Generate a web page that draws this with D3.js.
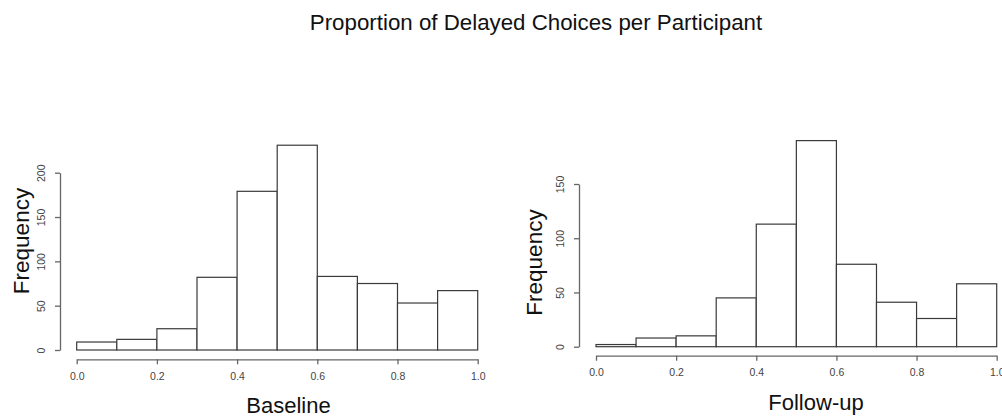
<!DOCTYPE html>
<html>
<head>
<meta charset="utf-8">
<script src="https://cdn.jsdelivr.net/npm/d3@7"></script>
<style>
  html, body { margin: 0; padding: 0; background: #fff; }
  svg { display: block; font-family: "Liberation Sans", Arial, sans-serif; }
</style>
</head>
<body>
<svg id="chart" width="1002" height="417"></svg>
<script>
// Histogram bins (proportion of delayed choices) and counts per bin
const binEdges = [0.0, 0.1, 0.2, 0.3, 0.4, 0.5, 0.6, 0.7, 0.8, 0.9, 1.0];
const baselineCounts = [9, 12, 24, 82, 179, 231, 83, 75, 53, 67];
const followupCounts = [2, 8, 10, 45, 113, 190, 76, 41, 26, 58];
const xTickValues = [0.0, 0.2, 0.4, 0.6, 0.8, 1.0];
const baselineYTicks = [0, 50, 100, 150, 200];
const followupYTicks = [0, 50, 100, 150];

const titleText = "Proportion of Delayed Choices per Participant";
const yLabel = "Frequency";

const svg = d3.select("#chart");

svg.append("text")
  .attr("x", 536).attr("y", 30)
  .attr("text-anchor", "middle")
  .attr("font-size", 22.3)
  .attr("fill", "#111")
  .text(titleText);

function drawPanel(cfg) {
  const g = svg.append("g");
  const x = d3.scaleLinear().domain([0, 1]).range([cfg.x0, cfg.x1]);
  const yMax = cfg.yTicks[cfg.yTicks.length - 1];
  const y = d3.scaleLinear().domain([0, yMax]).range([cfg.yBase, cfg.yTop]);

  const bins = cfg.counts.map((c, i) => ({ lo: binEdges[i], hi: binEdges[i + 1], n: c }));

  g.selectAll("rect.bar").data(bins).enter().append("rect")
    .attr("class", "bar")
    .attr("x", d => x(d.lo))
    .attr("y", d => y(d.n))
    .attr("width", d => x(d.hi) - x(d.lo))
    .attr("height", d => y(0) - y(d.n))
    .attr("fill", "#fff")
    .attr("stroke", "#3a3a3a")
    .attr("stroke-width", 1.2);

  // x axis, offset below the bars
  const xAxis = d3.axisBottom(x)
    .tickValues(xTickValues)
    .tickFormat(d3.format(".1f"))
    .tickSizeInner(5).tickSizeOuter(0).tickPadding(8);
  const gx = g.append("g")
    .attr("transform", `translate(0,${cfg.xAxisY})`)
    .call(xAxis);
  gx.select(".domain").attr("stroke", "#666").attr("stroke-width", 1.3);
  gx.selectAll(".tick line").attr("stroke", "#666").attr("stroke-width", 1.3);
  gx.selectAll(".tick text")
    .attr("font-size", 10.5)
    .attr("font-family", "Liberation Sans, Arial, sans-serif")
    .attr("fill", "#444");

  // y axis with rotated tick labels
  const yAxis = d3.axisLeft(y)
    .tickValues(cfg.yTicks)
    .tickSizeInner(5).tickSizeOuter(0);
  const gy = g.append("g")
    .attr("transform", `translate(${cfg.yAxisX},0)`)
    .call(yAxis);
  gy.select(".domain").attr("stroke", "#666").attr("stroke-width", 1.3);
  gy.selectAll(".tick line").attr("stroke", "#666").attr("stroke-width", 1.3);
  gy.selectAll(".tick text")
    .attr("x", null).attr("dy", null)
    .attr("text-anchor", "middle")
    .attr("transform", "translate(-15,0) rotate(-90)")
    .attr("font-size", 10.5)
    .attr("font-family", "Liberation Sans, Arial, sans-serif")
    .attr("fill", "#444");

  // axis titles
  g.append("text")
    .attr("transform", `translate(${cfg.yLabelX},${cfg.yLabelY}) rotate(-90)`)
    .attr("text-anchor", "middle")
    .attr("font-size", 22.5)
    .attr("fill", "#111")
    .text(yLabel);

  g.append("text")
    .attr("x", cfg.xLabelX).attr("y", cfg.xLabelY)
    .attr("text-anchor", "middle")
    .attr("font-size", 22)
    .attr("fill", "#111")
    .text(cfg.xLabel);
}

drawPanel({
  counts: baselineCounts, yTicks: baselineYTicks, xLabel: "Baseline",
  x0: 76.7, x1: 477.7, yBase: 350, yTop: 172.7,
  xAxisY: 359.3, yAxisX: 60,
  yLabelX: 28.5, yLabelY: 241, xLabelX: 288.5, xLabelY: 413
});

drawPanel({
  counts: followupCounts, yTicks: followupYTicks, xLabel: "Follow-up",
  x0: 596, x1: 996.7, yBase: 346.7, yTop: 184,
  xAxisY: 355.7, yAxisX: 579,
  yLabelX: 541.5, yLabelY: 262.5, xLabelX: 816, xLabelY: 410
});
</script>
</body>
</html>
